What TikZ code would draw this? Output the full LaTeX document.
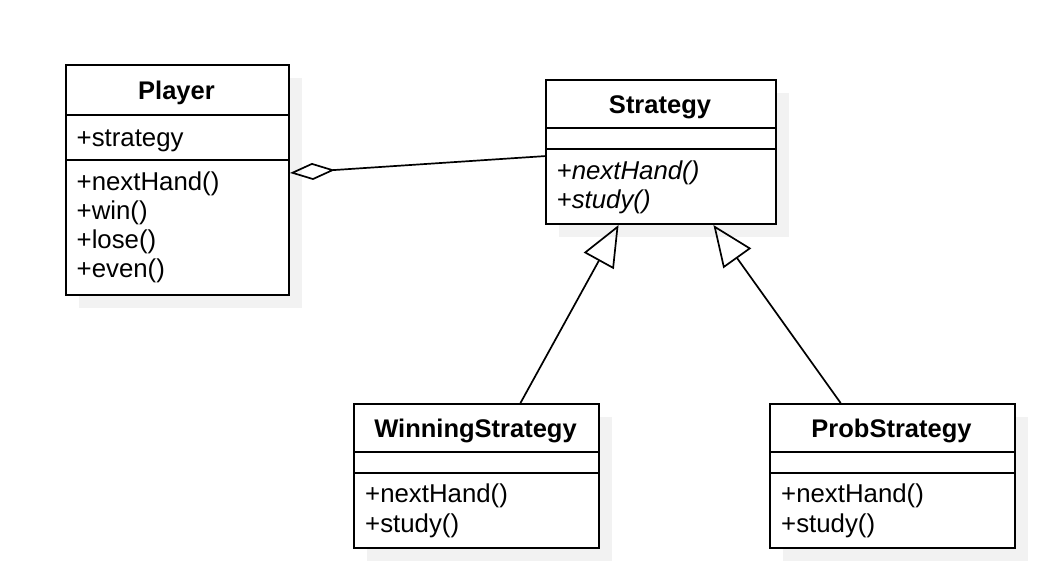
\documentclass[tikz,border=0pt]{standalone}
\usepackage{fontspec}
\setmainfont{Liberation Sans}
\usetikzlibrary{arrows.meta,calc}
\definecolor{shadowgray}{HTML}{F2F2F2}
\newcommand\umlshadow[4]{\fill[shadowgray] (#1+14,#2+14) rectangle ++(#3,#4);}
\begin{document}
\begin{tikzpicture}[x=1pt,y=-1pt,
  box/.style={draw, line width=2pt, fill=white, anchor=north west, inner sep=0pt},
  sepline/.style={line width=2pt},
  conn/.style={line width=1.7pt},
  txt/.style={inner sep=0pt, anchor=base west, font=\fontsize{25.8}{29}\selectfont},
  ttl/.style={inner sep=0pt, anchor=base, font=\fontsize{25.5}{29}\selectfont\bfseries},
  itxt/.style={txt, font=\fontsize{25.8}{29}\selectfont\itshape}]
\useasboundingbox[fill=white] (0,0) rectangle (1048,582);
% shadows
\umlshadow{65}{64}{223}{230}
\umlshadow{545}{79}{230}{144}
\umlshadow{353}{403}{245}{144}
\umlshadow{769}{403}{245}{144}
% boxes
\node[box, minimum width=223pt, minimum height=230pt] (player) at (65,64) {};
\node[box, minimum width=230pt, minimum height=144pt] (strategy) at (545,79) {};
\node[box, minimum width=245pt, minimum height=144pt] (winning) at (353,403) {};
\node[box, minimum width=245pt, minimum height=144pt] (prob) at (769,403) {};
% separators
\draw[sepline] ($(player.north west)+(0,51)$) -- ($(player.north east)+(0,51)$);
\draw[sepline] ($(player.north west)+(0,96)$) -- ($(player.north east)+(0,96)$);
\draw[sepline] ($(strategy.north west)+(0,49)$) -- ($(strategy.north east)+(0,49)$);
\draw[sepline] ($(strategy.north west)+(0,70)$) -- ($(strategy.north east)+(0,70)$);
\draw[sepline] ($(winning.north west)+(0,49)$) -- ($(winning.north east)+(0,49)$);
\draw[sepline] ($(winning.north west)+(0,70)$) -- ($(winning.north east)+(0,70)$);
\draw[sepline] ($(prob.north west)+(0,49)$) -- ($(prob.north east)+(0,49)$);
\draw[sepline] ($(prob.north west)+(0,70)$) -- ($(prob.north east)+(0,70)$);
% texts
\node[ttl] (pT) at (176.5,99) {Player};
\node[txt] (pA) at (76.5,146) {+strategy};
\node[txt] (pM1) at (76.5,190) {+nextHand()};
\node[txt] (pM2) at (76.5,219) {+win()};
\node[txt] (pM3) at (76.5,248) {+lose()};
\node[txt] (pM4) at (76.5,277) {+even()};
\node[ttl] (sT) at (660,113) {Strategy};
\node[itxt] (sM1) at (556.5,179) {+nextHand()};
\node[itxt] (sM2) at (556.5,208.5) {+study()};
\node[ttl] (wT) at (475.5,437) {WinningStrategy};
\node[txt] (wM1) at (365,502.5) {+nextHand()};
\node[txt] (wM2) at (365,532.5) {+study()};
\node[ttl] (rT) at (891.5,437) {ProbStrategy};
\node[txt] (rM1) at (781,502.5) {+nextHand()};
\node[txt] (rM2) at (781,532.5) {+study()};
% connectors
\draw[conn, {Diamond[open,length=45pt,width=17pt]}-]
  ($(player.north east)!0.4696!(player.south east)$) -- ($(strategy.north west)!0.528!(strategy.south west)$);
\draw[conn, -{Triangle[open,length=41pt,width=34pt]}]
  ($(winning.north west)!0.678!(winning.north east)$) -- ($(strategy.south west)!0.317!(strategy.south east)$);
\draw[conn, -{Triangle[open,length=41pt,width=34pt]}]
  ($(prob.north west)!0.29!(prob.north east)$) -- ($(strategy.south west)!0.726!(strategy.south east)$);
\end{tikzpicture}
\end{document}
